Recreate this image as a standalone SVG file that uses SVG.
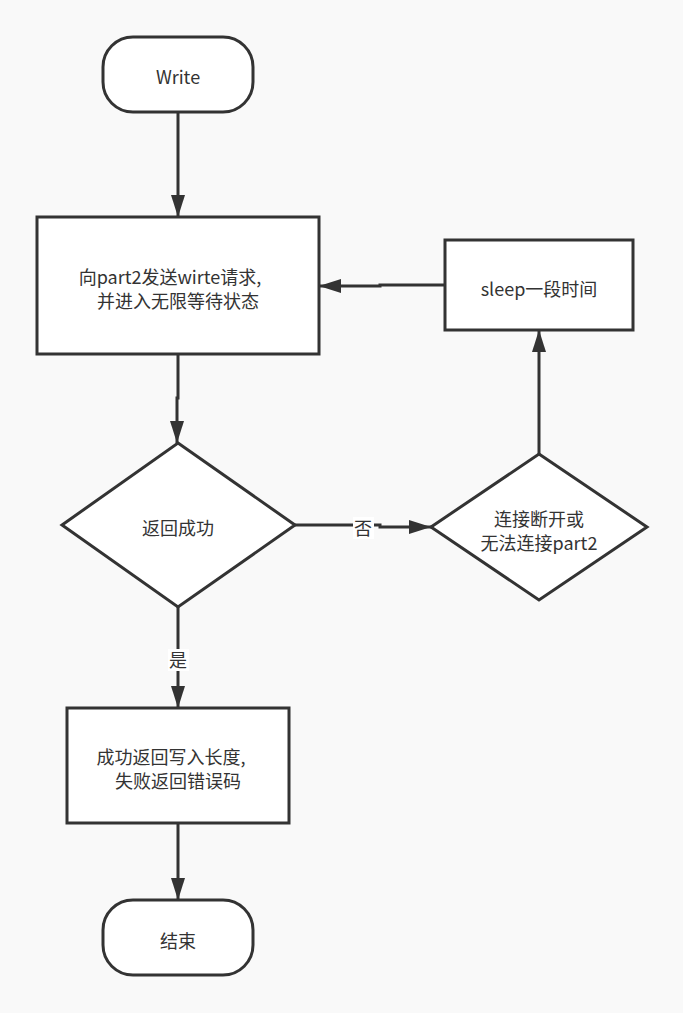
<svg xmlns="http://www.w3.org/2000/svg" width="683" height="1013" viewBox="0 0 683 1013">
<defs>
<marker id="ah" markerUnits="userSpaceOnUse" markerWidth="24" markerHeight="16" refX="22" refY="7" orient="auto">
<path d="M0,0 L22,7 L0,14 Z" fill="#333"/>
</marker>
<style>
.s{fill:#fff;stroke:#333;stroke-width:3}
.c{fill:none;stroke:#333;stroke-width:3;marker-end:url(#ah)}
text{font-family:"Noto Sans CJK SC","Microsoft YaHei",sans-serif;font-size:18px;fill:#333;text-anchor:middle;dominant-baseline:central}
.lb{fill:#fff;stroke:none}
</style>
</defs>
<rect width="683" height="1013" fill="#f9f9f9"/>
<g id="connectors">
<path class="c" d="M178,112 V217"/>
<path class="c" d="M178,354 V398 H177 V443"/>
<path class="c" d="M295,525 H380 V527 H431"/>
<path class="c" d="M539,454 V330"/>
<path class="c" d="M445,285 H380 V286 H319"/>
<path class="c" d="M178,607 V708"/>
<path class="c" d="M178,823 V900"/>
<rect class="lb" x="353" y="517" width="21" height="22"/>
<text x="363" y="527">否</text>
<rect class="lb" x="168" y="649" width="21" height="22"/>
<text x="178" y="659">是</text>
</g>
<g id="start">
<rect class="s" x="103" y="37" width="150" height="75" rx="30"/>
<text x="178" y="76">Write</text>
</g>
<g id="send">
<rect class="s" x="37" y="217" width="282" height="137"/>
<text x="170" y="276">向part2发送wirte请求,</text>
<text x="178" y="300">并进入无限等待状态</text>
</g>
<g id="check">
<polygon class="s" points="178,443 295,525 178,607 62,525"/>
<text x="178" y="527">返回成功</text>
</g>
<g id="disconnect">
<polygon class="s" points="539,454 647,527 539,600 431,527"/>
<text x="539" y="518">连接断开或</text>
<text x="539" y="542">无法连接part2</text>
</g>
<g id="sleep">
<rect class="s" x="445" y="240" width="188" height="90"/>
<text x="539" y="288">sleep一段时间</text>
</g>
<g id="result">
<rect class="s" x="67" y="708" width="222" height="115"/>
<text x="171" y="756">成功返回写入长度,</text>
<text x="178" y="780">失败返回错误码</text>
</g>
<g id="end">
<rect class="s" x="103" y="900" width="150" height="75" rx="30"/>
<text x="178" y="940">结束</text>
</g>
</svg>
